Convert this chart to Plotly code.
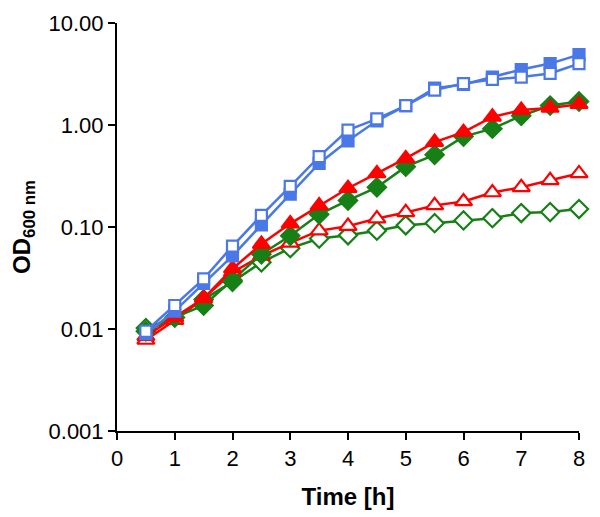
import plotly.graph_objects as go

# time points (h)
time_h = [0.5, 1, 1.5, 2, 2.5, 3, 3.5, 4, 4.5, 5, 5.5, 6, 6.5, 7, 7.5, 8]

# OD600 readings per culture
blue_filled = [0.009, 0.015, 0.028, 0.052, 0.105, 0.21, 0.42, 0.7, 1.1, 1.55, 2.3, 2.5, 2.95, 3.5, 4.0, 4.9]
blue_open = [0.0095, 0.017, 0.031, 0.065, 0.13, 0.25, 0.49, 0.89, 1.15, 1.55, 2.2, 2.55, 2.8, 2.95, 3.2, 4.0]
red_filled = [0.0085, 0.013, 0.02, 0.039, 0.068, 0.108, 0.162, 0.24, 0.335, 0.47, 0.68, 0.85, 1.2, 1.4, 1.47, 1.6]
green_filled = [0.0095, 0.013, 0.017, 0.03, 0.054, 0.082, 0.133, 0.182, 0.245, 0.39, 0.51, 0.77, 0.92, 1.23, 1.55, 1.7]
red_open = [0.0078, 0.0122, 0.02, 0.036, 0.052, 0.07, 0.092, 0.102, 0.121, 0.139, 0.163, 0.178, 0.218, 0.245, 0.287, 0.335]
green_open = [0.0102, 0.013, 0.0195, 0.029, 0.045, 0.062, 0.077, 0.083, 0.092, 0.104, 0.109, 0.116, 0.122, 0.137, 0.14, 0.15]

y_ticks = [0.001, 0.01, 0.1, 1, 10]
y_labels = ["0.001", "0.01", "0.10", "1.00", "10.00"]

BLUE = "#4a78e8"
RED = "#ff0000"
GREEN = "#168016"


def series(y, color, symbol, filled, size):
    return go.Scatter(
        x=time_h, y=y, mode="lines+markers",
        line=dict(color=color, width=2.5),
        marker=dict(symbol=symbol, size=size,
                    color=color if filled else "white",
                    line=dict(color=color, width=2.2)),
        cliponaxis=False, showlegend=False,
    )


fig = go.Figure()
fig.add_trace(series(green_open, GREEN, "diamond", False, 14))
fig.add_trace(series(red_open, RED, "triangle-up", False, 15))
fig.add_trace(series(green_filled, GREEN, "diamond", True, 14))
fig.add_trace(series(red_filled, RED, "triangle-up", True, 15))
fig.add_trace(series(blue_filled, BLUE, "square", True, 11))
fig.add_trace(series(blue_open, BLUE, "square", False, 11))

# page body has an 8px margin, so the figure is a bit smaller than the window
fig.update_layout(
    width=592, height=509,
    margin=dict(l=109, r=21, t=15, b=86),
    plot_bgcolor="white", paper_bgcolor="white",
    font=dict(family="Liberation Sans, Arial, sans-serif", size=22, color="black"),
)
fig.update_xaxes(
    range=[0, 8], tickvals=list(range(9)), automargin=False,
    showline=True, linecolor="black", linewidth=2,
    ticks="outside", ticklen=7, tickwidth=2, tickcolor="black",
    showgrid=False, zeroline=False,
    title=dict(text="<b>Time [h]</b>", font=dict(size=24), standoff=18),
)
fig.update_yaxes(
    type="log", range=[-3, 1], tickvals=y_ticks, ticktext=y_labels,
    automargin=False,
    showline=True, linecolor="black", linewidth=2,
    ticks="outside", ticklen=7, tickwidth=2, tickcolor="black",
    showgrid=False, zeroline=False,
    title=dict(text="<b>OD<sub>600 nm</sub></b>", font=dict(size=24), standoff=16),
)

fig.write_html("out.html")
